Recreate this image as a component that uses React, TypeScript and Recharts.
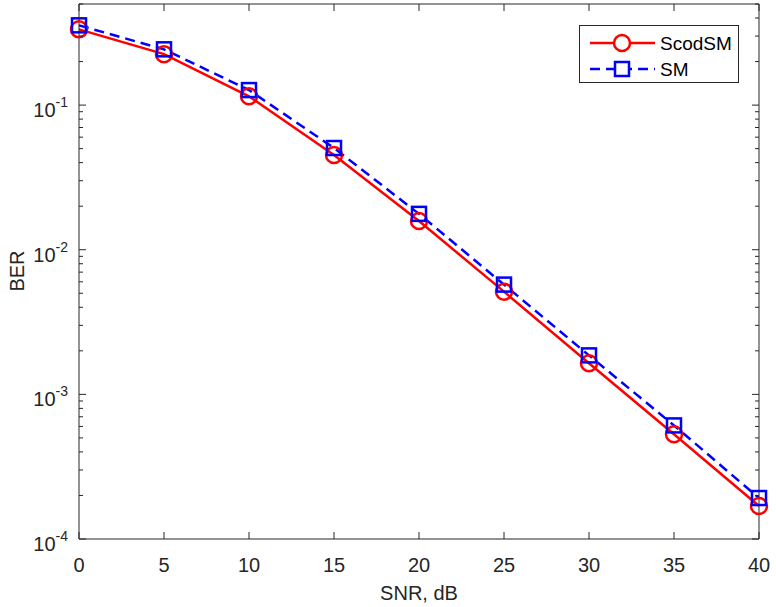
import React from "react"
import { Line, LineChart, XAxis, YAxis } from "recharts"

// SNR (dB) on the x axis
const snr = [0, 5, 10, 15, 20, 25, 30, 35, 40]
// BER
const scodsm = [0.334, 0.225, 0.115, 0.0452, 0.0158, 0.00513, 0.00164, 0.00053, 0.000169]
const sm = [0.356, 0.243, 0.127, 0.0505, 0.0177, 0.00574, 0.00186, 0.00061, 0.000192]

const xTicks = [0, 5, 10, 15, 20, 25, 30, 35, 40]
const decades = [-4, -3, -2, -1]
const minorSteps = [2, 3, 4, 5, 6, 7, 8, 9]
const yMax = 0.5

const FONT = '"Liberation Sans", Arial, Helvetica, sans-serif'
const AXIS = "#262626"
const LW = 2.5
const DASH = "10 6"

const data = snr.map((s, i) => ({ snr: s, scodsm: scodsm[i], sm: sm[i] }))

const yTicks: number[] = []
decades.forEach((d) => {
  const base = Math.pow(10, d)
  yTicks.push(base)
  minorSteps.forEach((m) => {
    const v = m * base
    if (v <= yMax + 1e-12) yTicks.push(v)
  })
})

const isDecade = (v: number) => {
  const l = Math.log10(v)
  return Math.abs(l - Math.round(l)) < 1e-6
}

function BottomTick({ x, y, payload }: any) {
  return (
    <g>
      <line x1={x} y1={y} x2={x} y2={y - 7} stroke={AXIS} strokeWidth={1} />
      <text x={x} y={y + 33} textAnchor="middle" fontSize={20} fill={AXIS} fontFamily={FONT}>
        {payload.value}
      </text>
    </g>
  )
}

function TopTick({ x, y }: any) {
  return <line x1={x} y1={y} x2={x} y2={y + 7} stroke={AXIS} strokeWidth={1} />
}

function LeftTick({ x, y, payload }: any) {
  const major = isDecade(payload.value)
  const exp = Math.round(Math.log10(payload.value))
  return (
    <g>
      <line x1={x} y1={y} x2={x + (major ? 7 : 4)} y2={y} stroke={AXIS} strokeWidth={1} />
      {major && (
        <text x={x - 11} y={y + 12} textAnchor="end" fill={AXIS} fontFamily={FONT}>
          <tspan fontSize={20}>10</tspan>
          <tspan fontSize={14} dy={-10}>{exp}</tspan>
        </text>
      )}
    </g>
  )
}

function RightTick({ x, y, payload }: any) {
  const major = isDecade(payload.value)
  return <line x1={x} y1={y} x2={x - (major ? 7 : 4)} y2={y} stroke={AXIS} strokeWidth={1} />
}

function BerLabel() {
  return (
    <text
      x={0}
      y={0}
      transform="translate(24,271) rotate(-90)"
      textAnchor="middle"
      fontSize={20}
      fill={AXIS}
      fontFamily={FONT}
    >
      BER
    </text>
  )
}

// legend drawn inside the svg, anchored at its top-left corner
function LegendBox() {
  const lx = 579
  const ly = 25
  return (
    <g transform={`translate(${lx},${ly})`}>
      <rect x={0.5} y={0.5} width={159} height={57} fill="#fff" stroke={AXIS} strokeWidth={1} />
      <line x1={11} y1={18} x2={76} y2={18} stroke="#ff0000" strokeWidth={LW} />
      <circle cx={43} cy={18} r={8} fill="#fff" stroke="#ff0000" strokeWidth={LW} />
      <text x={81} y={25} fontSize={19} fill="#000" fontFamily={FONT}>
        ScodSM
      </text>
      <line x1={11} y1={44} x2={76} y2={44} stroke="#0000ff" strokeWidth={LW} strokeDasharray={DASH} />
      <rect x={36} y={37} width={14} height={14} fill="#fff" stroke="#0000ff" strokeWidth={LW} />
      <text x={81} y={51} fontSize={19} fill="#000" fontFamily={FONT}>
        SM
      </text>
    </g>
  )
}

function SnrLabel() {
  return (
    <g>
      <text x={419} y={600} textAnchor="middle" fontSize={20} fill={AXIS} fontFamily={FONT}>
        SNR, dB
      </text>
      <LegendBox />
    </g>
  )
}

function CircleDot({ cx, cy, index }: any) {
  return <circle key={index} cx={cx} cy={cy} r={8} fill="none" stroke="#ff0000" strokeWidth={LW} />
}

function SquareDot({ cx, cy, index }: any) {
  return (
    <rect key={index} x={cx - 7} y={cy - 7} width={14} height={14} fill="none" stroke="#0000ff" strokeWidth={LW} />
  )
}

export default function App() {
  return (
    <div style={{ position: "absolute", left: 0, top: 0, background: "#fff" }}>
      <LineChart width={776} height={607} data={data} margin={{ top: 3, right: 16, left: 0, bottom: 0 }}>
        <XAxis
          dataKey="snr"
          type="number"
          domain={[0, 40]}
          ticks={xTicks}
          interval={0}
          height={68}
          tickSize={0}
          tickMargin={0}
          tickLine={false}
          axisLine={{ stroke: AXIS, strokeWidth: 1 }}
          tick={<BottomTick />}
          label={<SnrLabel />}
        />
        <XAxis
          xAxisId="top"
          orientation="top"
          dataKey="snr"
          type="number"
          domain={[0, 40]}
          ticks={xTicks}
          interval={0}
          height={1}
          tickSize={0}
          tickMargin={0}
          tickLine={false}
          axisLine={{ stroke: AXIS, strokeWidth: 1 }}
          tick={<TopTick />}
        />
        <YAxis
          scale="log"
          type="number"
          domain={[0.0001, yMax]}
          allowDataOverflow
          ticks={yTicks}
          interval={0}
          width={79}
          tickSize={0}
          tickMargin={0}
          tickLine={false}
          axisLine={{ stroke: AXIS, strokeWidth: 1 }}
          tick={<LeftTick />}
          label={<BerLabel />}
        />
        <YAxis
          yAxisId="right"
          orientation="right"
          scale="log"
          type="number"
          domain={[0.0001, yMax]}
          allowDataOverflow
          ticks={yTicks}
          interval={0}
          width={1}
          tickSize={0}
          tickMargin={0}
          tickLine={false}
          axisLine={{ stroke: AXIS, strokeWidth: 1 }}
          tick={<RightTick />}
        />
        <Line
          type="linear"
          dataKey="scodsm"
          stroke="#ff0000"
          strokeWidth={LW}
          dot={<CircleDot />}
          activeDot={false}
          isAnimationActive={false}
        />
        <Line
          type="linear"
          dataKey="sm"
          stroke="#0000ff"
          strokeWidth={LW}
          strokeDasharray={DASH}
          dot={<SquareDot />}
          activeDot={false}
          isAnimationActive={false}
        />
      </LineChart>
    </div>
  )
}
